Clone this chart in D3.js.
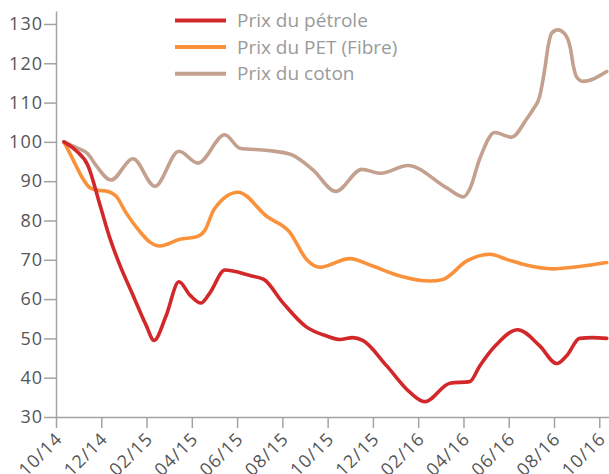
<!DOCTYPE html>
<html>
<head>
<meta charset="utf-8">
<script src="https://cdn.jsdelivr.net/npm/d3@7"></script>
<style>
    body { margin: 0; background: #fff; }
    svg { display: block; font-family: "Open Sans", sans-serif; }
    .axis path, .axis line { stroke: #a3a3a3; stroke-width: 1.5; }
    .axis text { fill: #555; font-size: 18px; letter-spacing: 1px; font-family: "Open Sans", sans-serif; }
    .legend text { fill: #9a9a9a; font-size: 19px; }
</style>
</head>
<body>
<script>
// months counted from 10/2014, values indexed to 100
const tickMonths = [0, 2, 4, 6, 8, 10, 12, 14, 16, 18, 20, 22, 24];
const tickLabels = ["10/14", "12/14", "02/15", "04/15", "06/15", "08/15", "10/15",
    "12/15", "02/16", "04/16", "06/16", "08/16", "10/16"];
const yTicks = [30, 40, 50, 60, 70, 80, 90, 100, 110, 120, 130];

const petroleMonths = [0.35, 0.88, 1.41, 1.94, 2.38, 2.83, 3.4, 3.97, 4.33, 4.86, 5.43, 5.92,
    6.4, 6.8, 7.46, 8.57, 9.18, 10.02, 11.04, 11.96, 12.54, 13.11, 13.55, 14.61, 15.63,
    16.29, 17.4, 18.28, 18.72, 19.47, 20.4, 21.37, 22.12, 22.56, 23.13, 23.71, 24.33];
const petroleValues = [100, 97.8, 94, 84, 75.5, 68.5, 61, 53.5, 49.5, 55.7, 64.4, 61,
    59, 61.6, 67.4, 66, 65, 59.1, 53, 50.6, 49.7, 50.2, 49.5, 43, 36.3,
    33.9, 38.6, 39, 43, 48.5, 52.2, 48.1, 43.6, 45.6, 50, 50.2, 50];

const petMonths = [0.35, 0.62, 0.88, 1.19, 1.5, 1.85, 2.21, 2.65, 3.09, 3.66, 4.15, 4.59,
    5.47, 6.23, 6.58, 6.98, 8.04, 9.32, 10.33, 11.08, 11.66, 12.98, 13.99, 15.19, 16.51,
    17.09, 18.15, 19.16, 19.91, 20.8, 21.94, 23.13, 24.33];
const petValues = [100, 97, 94, 90.6, 88.3, 87.7, 87.5, 86.2, 82, 77.5, 74.5, 73.5,
    75.2, 75.9, 77.5, 82.8, 87.2, 81, 77, 70, 68.1, 70.3, 68.4, 65.9, 64.6,
    65, 69.7, 71.4, 70.1, 68.6, 67.7, 68.3, 69.3];

const cotonMonths = [0.35, 0.88, 1.41, 1.77, 2.43, 3.4, 4.37, 5.43, 6.27, 7.46, 8.12, 9.36,
    10.38, 11.35, 12.36, 13.51, 14.35, 15.54, 17.26, 18.01, 18.28, 18.72, 19.38, 20.13,
    20.79, 21.08, 21.37, 21.59, 21.74, 21.9, 22.16, 22.5, 22.74, 22.85, 23.0,
    23.27, 24.33];
const cotonValues = [100, 98.6, 96.9, 94, 90.3, 95.7, 88.7, 97.6, 94.6, 101.8, 98.4, 97.8,
    96.8, 92.9, 87.4, 93, 92, 94, 88.3, 86, 88, 95.7, 102.4, 101.2,
    105.8, 108.3, 111.6, 118.4, 124.3, 127.7, 128.5, 127.3, 123.4, 119.5, 116.5,
    115.4, 117.9];

const seriesNames = ["Prix du pétrole", "Prix du PET (Fibre)", "Prix du coton"];
const seriesColours = ["#d3282a", "#fa923c", "#c4a08f"];

const width = 609, height = 474;
const margin = { top: 11, right: 0, bottom: 57, left: 56 };

const svg = d3.select("body").append("svg")
    .attr("width", width)
    .attr("height", height);

const x = d3.scaleLinear()
    .domain([0, 24.43])
    .range([margin.left, width - margin.right]);
const y = d3.scaleLinear()
    .domain([30, 133.3])
    .range([height - margin.bottom, margin.top]);

const xAxis = svg.append("g")
    .attr("class", "axis")
    .attr("transform", `translate(0,${height - margin.bottom})`)
    .call(d3.axisBottom(x)
        .tickValues(tickMonths)
        .tickFormat((d, i) => tickLabels[i])
        .tickSize(11)
        .tickSizeOuter(0));
xAxis.selectAll("text")
    .attr("x", 0)
    .attr("y", 0)
    .attr("dy", 0)
    .attr("transform", "translate(7,23) rotate(-45)")
    .style("text-anchor", "end");

svg.append("g")
    .attr("class", "axis")
    .attr("transform", `translate(${margin.left},0)`)
    .call(d3.axisLeft(y)
        .tickValues(yTicks)
        .tickSize(12)
        .tickPadding(1)
        .tickSizeOuter(0));

svg.selectAll(".axis .domain").attr("fill", "none");

const line = d3.line()
    .x(d => x(d[0]))
    .y(d => y(d[1]))
    .curve(d3.curveMonotoneX);

const series = [
    d3.zip(cotonMonths, cotonValues),
    d3.zip(petMonths, petValues),
    d3.zip(petroleMonths, petroleValues)
];
const seriesOrder = [2, 1, 0];

svg.append("g")
    .selectAll("path")
    .data(series)
    .enter()
    .append("path")
    .attr("d", line)
    .attr("fill", "none")
    .attr("stroke", (d, i) => seriesColours[seriesOrder[i]])
    .attr("stroke-width", 3.6)
    .attr("stroke-linejoin", "round")
    .attr("stroke-linecap", "round");

const legend = svg.append("g")
    .attr("class", "legend")
    .attr("transform", "translate(175,20.5)");

const item = legend.selectAll("g")
    .data(seriesNames)
    .enter()
    .append("g")
    .attr("transform", (d, i) => `translate(0,${i * 26.6})`);

item.append("line")
    .attr("x1", 0)
    .attr("x2", 51)
    .attr("stroke", (d, i) => seriesColours[i])
    .attr("stroke-width", 4);

item.append("text")
    .attr("x", 62)
    .attr("y", 6.5)
    .text(d => d);
</script>
</body>
</html>
